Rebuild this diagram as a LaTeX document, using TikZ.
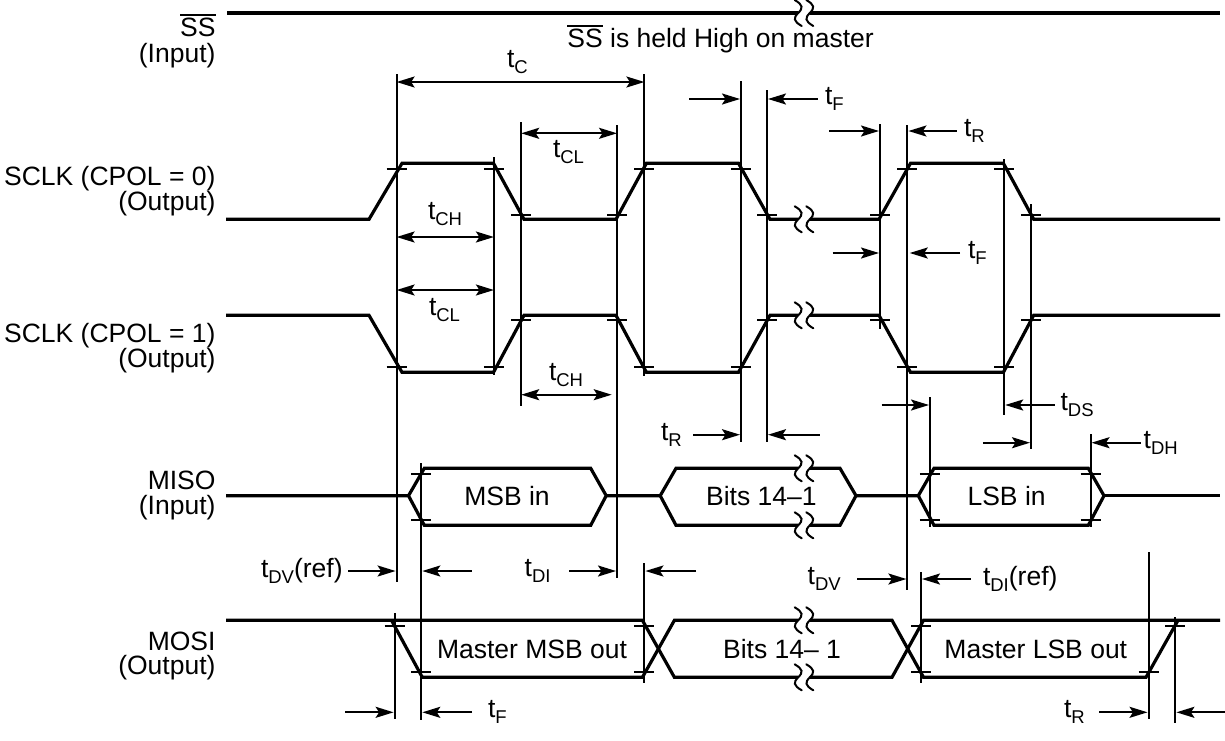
\documentclass[tikz,border=0pt]{standalone}
\usepackage{fontspec}
\setmainfont{Liberation Sans}
\usetikzlibrary{arrows.meta}
\newcommand{\tlab}[1]{t\raisebox{-6pt}{\fontsize{18.5}{18.5}\selectfont #1}}
\newsavebox{\ssboxa}
\newcommand{\ssbar}{\sbox{\ssboxa}{SS}\smash{\rlap{\rule[20.5pt]{\wd\ssboxa}{1.8pt}}}\usebox{\ssboxa}}
\newcommand{\breakmark}[2]{%
  \fill[white] (#1-5.8,#2-3) rectangle (#1+5.8,#2+3);
  \draw[squig] (#1-5.8-3.5,#2-13) .. controls (#1-5.8+5,#2-8) and (#1-5.8+5,#2-5) .. (#1-5.8,#2) .. controls (#1-5.8-5,#2+5) and (#1-5.8-5,#2+8) .. (#1-5.8+3.5,#2+13);
  \draw[squig] (#1+5.8-3.5,#2-13) .. controls (#1+5.8+5,#2-8) and (#1+5.8+5,#2-5) .. (#1+5.8,#2) .. controls (#1+5.8-5,#2+5) and (#1+5.8-5,#2+8) .. (#1+5.8+3.5,#2+13);}
\tikzset{
  x=1pt,y=-1pt,
  txt/.style={font=\fontsize{26.5}{24.5}\selectfont,inner sep=0pt,outer sep=0pt},
  lab/.style={txt,anchor=west},
  sig/.style={txt,align=right,anchor=east},
  wave/.style={line width=3.2pt,line join=miter,black},
  guide/.style={line width=2pt,black},
  dim/.style={line width=2pt,-{Stealth[length=18pt,width=11pt,inset=3.5pt]}},
  dimb/.style={line width=2pt,{Stealth[length=18pt,width=11pt,inset=3.5pt]}-{Stealth[length=18pt,width=11pt,inset=3.5pt]}},
  squig/.style={line width=2pt,line cap=round},
}
\begin{document}
\begin{tikzpicture}
\useasboundingbox (0,0) rectangle (1225,740);
% guide lines
\foreach \xx/\ya/\yb in {396.6/74/582, 493.9/157/375, 521.2/122/405.7, 617/125/578, 644.4/74/376, 644.4/563/683,
  740.9/81/442, 767/90/442, 880/124/329, 907.4/125/590, 1004.2/159/415, 1031/204/449, 929.8/397/527,
  1090.5/434/527, 421.3/463/720, 394.6/613/719, 921/572/683, 1148.5/552/719, 1175.4/617/723}
  {\draw[guide] (\xx,\ya) -- (\xx,\yb);}
% ticks
\foreach \xx/\yy in {396.6/169,493.9/169,521.2/215,617/215,644.4/169,740.9/169,767/215,880/215,907.4/169,1004.2/169,1031/215,
  396.6/367,493.9/367,521.2/320,617/320,644.4/367,740.9/367,767/320,880/320,907.4/367,1004.2/367,1031/320,
  421.3/473.7,421.3/520,929.8/473.7,929.8/520,1090.5/473.7,1090.5/520,
  394.6/625.7,421.3/672,644.4/625.7,644.4/672,921/625.7,921/672,1148.5/672,1175.4/625.7}
  {\draw[guide] (\xx-10,\yy) -- (\xx+10,\yy);}
% waveforms
\draw[wave] (227,13) -- (1220,13);
\draw[wave] (226,219.3) -- (369,219.3) -- (402,163.3) -- (493.5,163.3) -- (524,219.3) -- (616,219.3) -- (646.4,163.3) -- (738.5,163.3) -- (770,219.3) -- (879,219.3) -- (910.5,163.3) -- (1003.4,163.3) -- (1033.7,219.3) -- (1220,219.3);
\draw[wave] (226,315.3) -- (369,315.3) -- (402,372.3) -- (493.5,372.3) -- (524,315.3) -- (616,315.3) -- (646.4,372.3) -- (738.5,372.3) -- (770,315.3) -- (879,315.3) -- (910.5,372.3) -- (1003.4,372.3) -- (1033.7,315.3) -- (1220,315.3);
% MISO
\draw[wave] (226,495.7) -- (408.5,495.7) -- (424.3,468.3) -- (590.7,468.3) -- (606.2,495.7) -- (590.7,525.3) -- (424.3,525.3) -- (408.5,495.7);
\draw[wave] (606.2,495.7) -- (660.2,495.7) -- (676,468.3) -- (840,468.3) -- (856,495.7) -- (840,525.3) -- (676,525.3) -- (660.2,495.7);
\draw[wave] (856,495.7) -- (918.3,495.7) -- (934,468.3) -- (1088.3,468.3) -- (1104,495.7) -- (1088.3,525.3) -- (934,525.3) -- (918.3,495.7);
\draw[wave] (1104,495.7) -- (1220,495.7);
% MOSI
\draw[wave] (226,620.3) -- (642.4,620.3) -- (674.4,677.3) -- (892,677.3) -- (923.5,620.3) -- (1220,620.3);
\draw[wave] (391.5,620.3) -- (422.3,677.3) -- (642.4,677.3) -- (674.4,620.3) -- (892,620.3) -- (923.5,677.3) -- (1146,677.3) -- (1178,620.3);
% breaks
\foreach \yy in {13,219.3,315.3,468.3,525.3,620.3,677.3} {\breakmark{804}{\yy}}
% dimension arrows
\draw[dimb] (396.6,82) -- (644.4,82);
\draw[dimb] (521.2,133.3) -- (617,133.3);
\draw[dimb] (396.6,237) -- (493.9,237);
\draw[dimb] (396.6,290) -- (493.9,290);
\draw[dimb] (521.2,394.7) -- (611.7,394.7);
\foreach \xa/\xb/\yy in {689/740/99, 817.6/768/99, 829.4/879/131, 956.7/908.4/131, 832.6/879/253, 960/909.7/253,
  693/740/434.7, 819.6/768/434.7, 881.6/929/405, 1054.7/1005.2/405, 982.8/1030/442.7, 1140.6/1091.5/442.7,
  348/395.6/571, 471.7/422.3/571, 569.4/616/571, 696.2/645.4/571, 857/906.4/579, 970.6/922/579,
  345/393.6/712.3, 472/422.3/712.3, 1099/1147.5/712.3, 1225/1176.4/712.3}
  {\draw[dim] (\xa,\yy) -- (\xb,\yy);}
% signal labels
\node[sig] (ss) at (215.5,42.5) {\ssbar\\[1.5pt](Input)};
\node[sig] (sclka) at (215.5,191) {SCLK (CPOL = 0)\\(Output)};
\node[sig] (sclkb) at (215.5,348) {SCLK (CPOL = 1)\\(Output)};
\node[sig] (miso) at (215.5,495.3) {MISO\\(Input)};
\node[sig] (mosi) at (215.5,656) {MOSI\\(Output)};
\node[lab,anchor=base west] (held) at (567.4,47.7) {\ssbar\ is held High on master};
% data labels
\node[txt] (msbin) at (507,495.7) {MSB in};
\node[txt] (bitsa) at (761.4,495.7) {Bits 14–1};
\node[txt] (lsbin) at (1006.6,495.7) {LSB in};
\node[txt] (mmsb) at (532,649) {Master MSB out};
\node[txt] (bitsb) at (782,649) {Bits 14– 1};
\node[txt] (mlsb) at (1035.8,649) {Master LSB out};
% timing labels
\node[lab] (tc) at (507,62) {\tlab{C}};
\node[lab] (tcla) at (553,152) {\tlab{CL}};
\node[lab] (tcha) at (428,214) {\tlab{CH}};
\node[lab] (tclb) at (429,310) {\tlab{CL}};
\node[lab] (tchb) at (549,375) {\tlab{CH}};
\node[lab] (tfa) at (825,99) {\tlab{F}};
\node[lab] (tra) at (964,131) {\tlab{R}};
\node[lab] (tfb) at (968,253) {\tlab{F}};
\node[lab] (trb) at (661,435) {\tlab{R}};
\node[lab] (tds) at (1060.6,405) {\tlab{DS}};
\node[lab] (tdh) at (1143.7,443) {\tlab{DH}};
\node[lab] (tdvr) at (261,571) {\tlab{DV}(ref)};
\node[lab] (tdi) at (524.7,571) {\tlab{DI}};
\node[lab] (tdv) at (807.7,579) {\tlab{DV}};
\node[lab] (tdir) at (983,579) {\tlab{DI}(ref)};
\node[lab] (tfc) at (488,712) {\tlab{F}};
\node[lab] (trc) at (1064,712) {\tlab{R}};
\end{tikzpicture}
\end{document}
